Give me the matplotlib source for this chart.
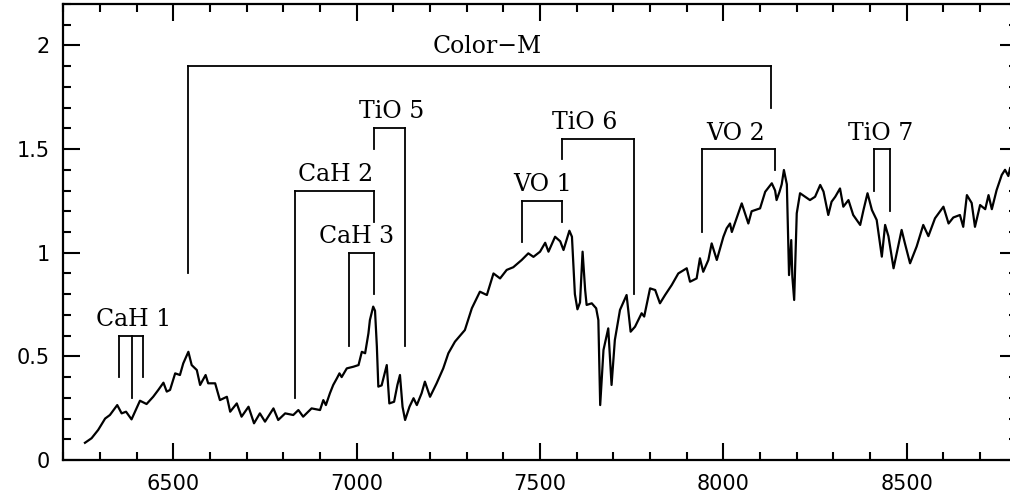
import matplotlib
matplotlib.use("Agg")
import matplotlib.pyplot as plt
from matplotlib.ticker import MultipleLocator, FuncFormatter

# spectrum (wavelength in A, relative flux)
wave = [6259, 6277, 6295, 6314, 6327, 6347, 6359, 6371, 6386, 6409, 6427, 6445,
        6459, 6473, 6482, 6491, 6505, 6518, 6527, 6541, 6550, 6564, 6573, 6588,
        6595, 6614, 6627, 6646, 6655, 6673, 6686, 6705, 6720, 6736, 6750, 6773,
        6786, 6805, 6827, 6841, 6854, 6877, 6900, 6909, 6916, 6927, 6936, 6946,
        6953, 6959, 6973, 6991, 7005, 7014, 7023, 7032, 7036, 7045, 7050, 7055,
        7059, 7068, 7082, 7089, 7102, 7111, 7118, 7125, 7132, 7144, 7155, 7164,
        7177, 7186, 7200, 7218, 7236, 7250, 7268, 7295, 7314, 7336, 7355, 7373,
        7391, 7409, 7427, 7450, 7468, 7482, 7500, 7514, 7523, 7541, 7555, 7564,
        7580, 7587, 7595, 7602, 7609, 7616, 7623, 7627, 7641, 7653, 7659, 7664,
        7673, 7686, 7695, 7704, 7718, 7736, 7747, 7759, 7777, 7784, 7800, 7814,
        7827, 7841, 7859, 7877, 7900, 7909, 7927, 7936, 7945, 7959, 7968, 7982,
        8000, 8009, 8018, 8023, 8050, 8068, 8077, 8100, 8114, 8132, 8141, 8145,
        8153, 8159, 8165, 8173, 8179, 8185, 8188, 8193, 8200, 8209, 8223, 8236,
        8250, 8264, 8273, 8286, 8295, 8305, 8318, 8327, 8341, 8354, 8373, 8382,
        8393, 8405, 8418, 8432, 8441, 8450, 8464, 8486, 8495, 8509, 8527, 8545,
        8559, 8577, 8600, 8614, 8627, 8645, 8654, 8664, 8677, 8686, 8700, 8714,
        8723, 8732, 8745, 8759, 8768, 8777, 8782, 8795]
flux = [0.083, 0.105, 0.145, 0.200, 0.217, 0.265, 0.225, 0.233, 0.196, 0.286, 0.270, 0.305,
        0.338, 0.373, 0.330, 0.338, 0.418, 0.410, 0.466, 0.522, 0.458, 0.434, 0.362, 0.410,
        0.370, 0.370, 0.289, 0.305, 0.233, 0.273, 0.209, 0.257, 0.177, 0.225, 0.185, 0.249,
        0.193, 0.225, 0.217, 0.241, 0.209, 0.249, 0.241, 0.289, 0.265, 0.322, 0.362, 0.394,
        0.418, 0.400, 0.442, 0.450, 0.458, 0.522, 0.515, 0.611, 0.675, 0.740, 0.720, 0.547,
        0.354, 0.360, 0.458, 0.273, 0.281, 0.362, 0.410, 0.257, 0.193, 0.257, 0.298, 0.265,
        0.322, 0.378, 0.305, 0.370, 0.442, 0.515, 0.571, 0.627, 0.732, 0.812, 0.796, 0.900,
        0.876, 0.917, 0.930, 0.965, 0.997, 0.980, 1.005, 1.048, 1.005, 1.077, 1.055, 1.013,
        1.106, 1.077, 0.800, 0.727, 0.760, 1.005, 0.820, 0.748, 0.756, 0.732, 0.675, 0.265,
        0.531, 0.635, 0.362, 0.579, 0.724, 0.796, 0.619, 0.643, 0.708, 0.692, 0.828, 0.820,
        0.756, 0.796, 0.844, 0.900, 0.925, 0.860, 0.876, 0.973, 0.908, 0.965, 1.045, 0.965,
        1.077, 1.118, 1.141, 1.100, 1.238, 1.141, 1.200, 1.214, 1.294, 1.335, 1.300, 1.254,
        1.294, 1.330, 1.399, 1.330, 0.892, 1.061, 0.884, 0.772, 1.190, 1.287, 1.270, 1.254,
        1.270, 1.327, 1.295, 1.182, 1.246, 1.270, 1.310, 1.222, 1.254, 1.182, 1.134, 1.206,
        1.287, 1.206, 1.158, 0.981, 1.134, 1.080, 0.925, 1.110, 1.045, 0.949, 1.030, 1.134,
        1.080, 1.166, 1.222, 1.141, 1.170, 1.182, 1.125, 1.278, 1.240, 1.125, 1.230, 1.210,
        1.278, 1.210, 1.302, 1.375, 1.400, 1.370, 1.410, 1.390]

# index bands: name, x of the verticals, y of the top bar, y where each vertical ends
bands = ["CaH 1", "CaH 2", "CaH 3", "TiO 5", "VO 1", "TiO 6", "VO 2", "TiO 7", "Color\u2212M"]
band_x = [[6352, 6388, 6418], [6832, 7047], [6979, 7047], [7047, 7132],
          [7452, 7561], [7561, 7756], [7941, 8141], [8411, 8455], [6539, 8130]]
band_top = [0.60, 1.30, 1.00, 1.60, 1.25, 1.55, 1.50, 1.50, 1.90]
band_ends = [[0.40, 0.30, 0.40], [0.30, 1.15], [0.55, 0.80], [1.50, 0.55],
             [1.05, 1.15], [1.45, 0.80], [1.10, 1.40], [1.30, 1.20], [0.90, 1.70]]
label_x = [6391, 6942, 7001, 7096, 7508, 7621, 8034, 8430, 7355]
label_y = [0.645, 1.345, 1.045, 1.648, 1.296, 1.598, 1.545, 1.545, 1.962]

fig = plt.figure(figsize=(10.1, 5.04), dpi=100)
ax = fig.add_axes([0.0627, 0.0873, 0.944, 0.9048])

ax.plot(wave, flux, color="black", lw=1.6, solid_joinstyle="round")

for i in range(len(bands)):
    xs = band_x[i]
    top = band_top[i]
    ax.plot([xs[0], xs[-1]], [top, top], color="black", lw=1.3)
    for x, yb in zip(xs, band_ends[i]):
        ax.plot([x, x], [yb, top], color="black", lw=1.3)
    ax.text(label_x[i], label_y[i], bands[i], ha="center", va="baseline",
            family="DejaVu Serif", fontsize=17)

ax.set_xlim(6200, 8800)
ax.set_ylim(0, 2.2)
ax.xaxis.set_major_locator(MultipleLocator(500))
ax.xaxis.set_minor_locator(MultipleLocator(100))
ax.yaxis.set_major_locator(MultipleLocator(0.5))
ax.yaxis.set_minor_locator(MultipleLocator(0.1))
ax.yaxis.set_major_formatter(FuncFormatter(lambda v, p: "%g" % v))

ax.tick_params(which="both", direction="in", top=True, right=True, width=1.5)
ax.tick_params(which="major", length=12, labelsize=15, pad=10)
ax.tick_params(which="minor", length=6)
for s in ax.spines.values():
    s.set_linewidth(1.6)

fig.savefig("out.png", dpi=100)
